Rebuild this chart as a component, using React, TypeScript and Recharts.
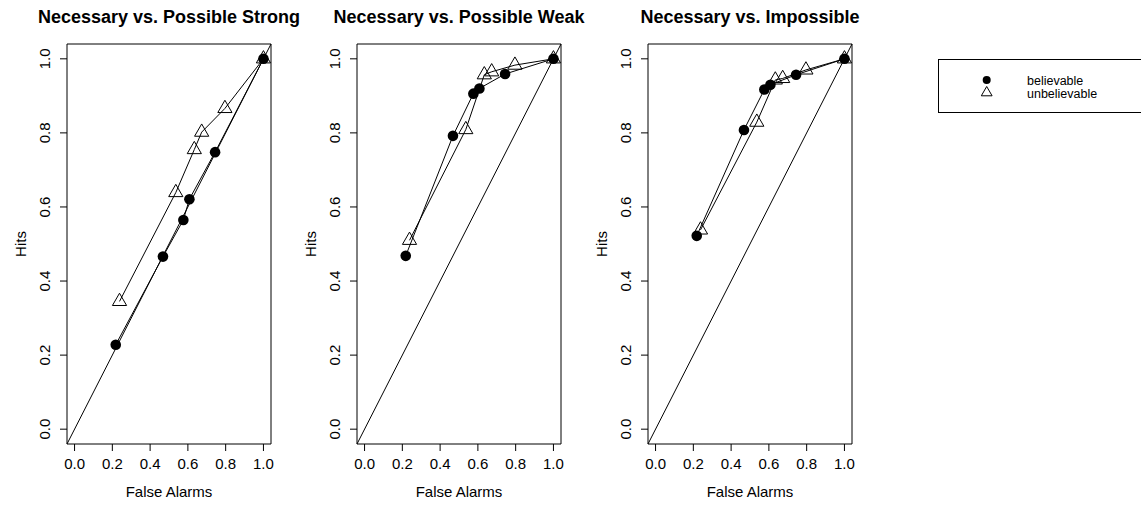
import React from "react";
import {
  ScatterChart,
  Scatter,
  XAxis,
  YAxis,
  ReferenceArea,
  ReferenceLine
} from "recharts";

// false alarm rates (x) shared across the three comparisons
const believableFA = [0.218, 0.468, 0.576, 0.608, 0.744, 1.0];
const unbelievableFA = [0.238, 0.536, 0.634, 0.673, 0.796, 1.0];

// hit rates per panel
const strongBelievable = [0.228, 0.466, 0.565, 0.621, 0.748, 1.0];
const strongUnbelievable = [0.345, 0.639, 0.755, 0.802, 0.866, 1.0];
const weakBelievable = [0.468, 0.792, 0.906, 0.92, 0.959, 1.0];
const weakUnbelievable = [0.51, 0.809, 0.957, 0.965, 0.983, 1.0];
const impossibleBelievable = [0.522, 0.808, 0.917, 0.93, 0.957, 1.0];
const impossibleUnbelievable = [0.538, 0.829, 0.943, 0.947, 0.97, 1.0];

const panelTitles = [
  "Necessary vs. Possible Strong",
  "Necessary vs. Possible Weak",
  "Necessary vs. Impossible"
];
const legendLabels = ["believable", "unbelievable"];

const TICKS = [0, 0.2, 0.4, 0.6, 0.8, 1];
const LO = -0.04;
const HI = 1.04;
const FONT = '"Liberation Sans", Arial, Helvetica, sans-serif';

const PLOT_LEFT = 66;
const PLOT_W = 204;
const RIGHT_PAD = 60; // room for the bold titles that run past the box

const Dot = ({ cx, cy }: any) => <circle cx={cx} cy={cy} r={5.3} fill="#000" />;

const Tri = ({ cx, cy }: any) => {
  const r = 8.2;
  const xc = 7.1;
  const yc = 4.1;
  return (
    <polygon
      points={`${cx},${cy - r} ${cx + xc},${cy + yc} ${cx - xc},${cy + yc}`}
      fill="none"
      stroke="#000"
      strokeWidth={1}
    />
  );
};

const XTick = ({ x, y, payload }: any) => (
  <text x={x} y={y} dy="0.36em" textAnchor="middle" fontSize={15} fill="#000" fontFamily={FONT}>
    {payload.value.toFixed(1)}
  </text>
);

const YTick = ({ x, y, payload }: any) => (
  <text
    x={x}
    y={y}
    transform={`rotate(-90 ${x} ${y})`}
    textAnchor="middle"
    fontSize={15}
    fill="#000"
    fontFamily={FONT}
  >
    {payload.value.toFixed(1)}
  </text>
);

const Panel = ({ left, title, belHits, unbHits }: any) => {
  const bel = believableFA.map((fa, i) => ({ fa, hits: belHits[i] }));
  const unb = unbelievableFA.map((fa, i) => ({ fa, hits: unbHits[i] }));

  return (
    <div style={{ position: "absolute", left: left - PLOT_LEFT, top: 0 }}>
      <ScatterChart
        width={PLOT_LEFT + PLOT_W + RIGHT_PAD}
        height={505}
        margin={{ top: 44, right: RIGHT_PAD, bottom: 0, left: 0 }}
      >
        <XAxis
          type="number"
          dataKey="fa"
          domain={[LO, HI]}
          ticks={TICKS}
          height={61}
          axisLine={false}
          tickLine={{ stroke: "#000" }}
          tickSize={7}
          tickMargin={13}
          tick={XTick}
          interval={0}
          label={{
            content: ({ viewBox }: any) => (
              <text
                x={viewBox.x + viewBox.width / 2}
                y={viewBox.y + 53}
                textAnchor="middle"
                fontSize={15}
                fontFamily={FONT}
                fill="#000"
              >
                False Alarms
              </text>
            )
          }}
        />
        <YAxis
          type="number"
          dataKey="hits"
          domain={[LO, HI]}
          ticks={TICKS}
          width={PLOT_LEFT}
          axisLine={false}
          tickLine={{ stroke: "#000" }}
          tickSize={7}
          tickMargin={10}
          tick={YTick}
          interval={0}
          label={{
            content: ({ viewBox }: any) => {
              const lx = viewBox.x + 24.5;
              const ly = viewBox.y + viewBox.height / 2;
              return (
                <text
                  x={lx}
                  y={ly}
                  transform={`rotate(-90 ${lx} ${ly})`}
                  textAnchor="middle"
                  fontSize={15}
                  fontFamily={FONT}
                  fill="#000"
                >
                  Hits
                </text>
              );
            }
          }}
        />
        <ReferenceArea
          x1={LO}
          x2={HI}
          y1={LO}
          y2={HI}
          fill="none"
          fillOpacity={0}
          stroke="#000"
          strokeWidth={1}
          label={{
            content: ({ viewBox }: any) => (
              <text
                x={viewBox.x + viewBox.width / 2}
                y={viewBox.y - 21}
                textAnchor="middle"
                fontSize={18}
                fontWeight="bold"
                fontFamily={FONT}
                fill="#000"
              >
                {title}
              </text>
            )
          }}
        />
        <ReferenceLine
          segment={[
            { x: LO, y: LO },
            { x: HI, y: HI }
          ]}
          stroke="#000"
          strokeWidth={1}
        />
        <Scatter
          data={bel}
          shape={Dot}
          line={{ stroke: "#000", strokeWidth: 1 }}
          lineType="joint"
          isAnimationActive={false}
        />
        <Scatter
          data={unb}
          shape={Tri}
          line={{ stroke: "#000", strokeWidth: 1 }}
          lineType="joint"
          isAnimationActive={false}
        />
      </ScatterChart>
    </div>
  );
};

const LegendBox = () => {
  const cx = 56.7;
  const tr = 6.2;
  const txc = 5.4;
  const tyc = 3.1;
  const ty = 42.7;
  return (
    <svg
      width={211}
      height={80}
      style={{ position: "absolute", left: 930, top: 50 }}
      fontFamily={FONT}
    >
      <rect x={8.5} y={9.5} width={260} height={53} fill="none" stroke="#000" strokeWidth={1} />
      <circle cx={cx} cy={30} r={4} fill="#000" />
      <polygon
        points={`${cx},${ty - tr} ${cx + txc},${ty + tyc} ${cx - txc},${ty + tyc}`}
        fill="none"
        stroke="#000"
      />
      <text x={97} y={30} dy="0.36em" fontSize={12.5} fill="#000">
        {legendLabels[0]}
      </text>
      <text x={97} y={43} dy="0.36em" fontSize={12.5} fill="#000">
        {legendLabels[1]}
      </text>
    </svg>
  );
};

export default function App() {
  return (
    <div
      style={{
        position: "absolute",
        left: 0,
        top: 0,
        width: 1141,
        height: 505,
        background: "#fff",
        overflow: "hidden",
        fontFamily: FONT
      }}
    >
      <Panel left={66.5} title={panelTitles[0]} belHits={strongBelievable} unbHits={strongUnbelievable} />
      <Panel left={357} title={panelTitles[1]} belHits={weakBelievable} unbHits={weakUnbelievable} />
      <Panel left={647.5} title={panelTitles[2]} belHits={impossibleBelievable} unbHits={impossibleUnbelievable} />
      <LegendBox />
    </div>
  );
}
